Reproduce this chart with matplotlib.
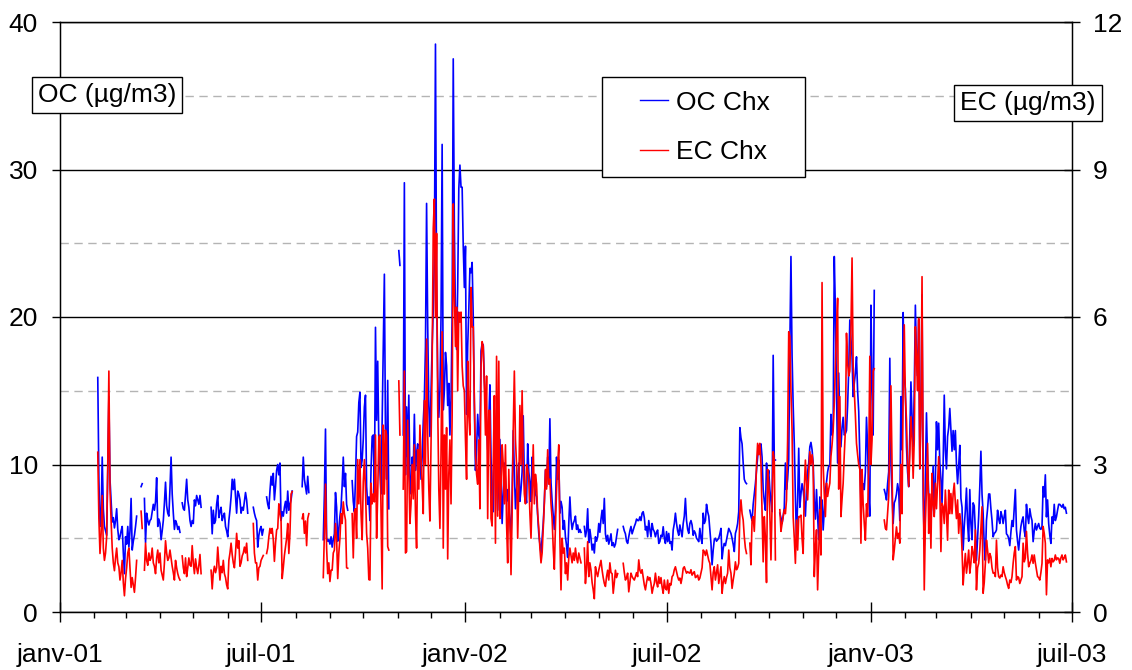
import numpy as np
import pandas as pd
import matplotlib
matplotlib.use("Agg")
import matplotlib.pyplot as plt
import matplotlib.dates as mdates
from matplotlib.ticker import MultipleLocator
from matplotlib.patches import Rectangle

nan = np.nan

# daily OC at Chx (µg/m3), one row per month, nan = missing day
oc_2001 = [  # starts 2001-02-01
    nan, nan, nan, 15.9, 9.0, 5.8, 6.5, 10.5, 7.0, 5.8, 5.5, 5.2, 9.5, 14.6, 9.0, 7.6, 6.1, 6.4, 5.7, 6.2, 7.0, 5.6, 4.9, 5.1, 5.5, 5.8, 4.0, 2.6,
    5.1, 4.6, 5.8, 4.4, 5.5, 7.7, 4.2, 4.8, 5.2, 5.8, 6.5, nan, nan, nan, 8.5, 8.7, nan, 7.7, 4.7, 6.7, 6.2, 5.9, 6.2, 6.3, 6.8, 7.3, 6.9, 7.5, 9.1, 5.8, 6.3,
    6.0, 4.9, 5.5, 6.2, 7.4, 8.8, 7.2, 6.7, 6.5, 8.4, 10.5, 8.0, 6.7, 5.6, 6.2, 6.0, 5.6, 5.8, 5.4, nan, 7.4, 7.0, 6.9, 8.0, 9.0, 7.6, 7.1, 6.2, 5.8, 6.2,
    6.0, 7.6, 7.2, 7.9, 7.6, 7.3, 7.9, 7.1, nan, nan, nan, nan, nan, nan, nan, nan, 7.1, 5.3, 6.9, 6.0, 6.2, 7.3, 7.9, 6.4, 6.8, 7.1, 6.2, 6.5, 6.7, 5.8, 5.5,
    5.1, 6.2, 6.9, 7.8, 9.0, 8.3, 9.0, 7.8, 6.7, 8.2, 8.0, 7.6, 6.7, 7.1, 6.9, 7.5, 8.1, 7.6, 6.7, nan, nan, nan, nan, 7.1, 6.7, 6.4, 6.2, 4.4, 5.2, 5.6,
    5.8, 5.2, 5.6, nan, nan, 7.8, 7.3, 7.0, 8.2, 9.2, 8.6, 9.4, 7.6, 8.5, 9.6, 10.0, 9.3, 10.1, 6.2, 6.8, 6.5, 7.1, 7.5, 6.7, 8.2, 6.9, 7.3, 7.6, 8.2, nan, nan,
    nan, nan, nan, nan, nan, nan, 8.5, 10.5, 9.0, 8.5, 8.0, 9.2, 8.1, nan, nan, nan, nan, nan, nan, nan, nan, nan, nan, nan, nan, 4.9, 8.0, 12.4, 5.0, 4.8, 4.9,
    4.6, 5.1, 4.4, 4.9, 5.3, 8.1, 7.1, 4.8, 5.6, 6.5, 7.1, 8.6, 10.5, 8.5, 9.4, 7.3, 6.9, nan, nan, nan, 8.9, 7.5, 6.8, 9.0, 11.9, 12.2, 14.2, 14.9, 9.8, 10.3,
    11.7, 13.9, 14.7, 8.5, 7.3, 7.8, 6.2, 9.7, 11.9, 12.0, 8.0, 19.3, 13.0, 17.0, 11.5, 9.6, 8.0, 13.0, 18.0, 22.9, 12.0, 9.0, 15.7, 7.0, nan, nan, nan, nan, nan, nan, nan,
    nan, 24.5, 23.5, nan, nan, 12.0, 29.1, 9.3, 13.9, 10.5, 14.7, 9.0, 8.0, 10.5, 9.5, 13.4, 9.6, 10.8, 11.4, 10.0, 11.1, 9.0, 10.5, 12.9, 14.5, 18.0, 27.7, 19.4, 14.0, 11.9,
    15.0, 18.0, 20.5, 24.0, 38.5, 22.0, 16.0, 13.2, 15.0, 20.0, 31.7, 13.7, 15.0, 17.6, 16.7, 14.0, 15.5, 12.0, 14.5, 20.0, 37.5, 26.0, 20.0, 17.8, 22.0, 28.7, 30.3, 28.8, 28.8, 24.8, 22.0,
]
oc_2002 = [
    24.8, 13.4, 18.0, 20.5, 23.3, 23.0, 23.7, 20.0, 14.0, 9.6, 11.0, 13.4, 12.0, 11.5, 17.7, 18.2, 18.1, 15.7, 14.0, 12.9, 11.0, 13.0, 15.4, 10.5, 7.3, 6.8, 13.7, 9.9, 9.2, 6.9, 9.4,
    11.7, 9.0, 6.0, 8.0, 10.1, 9.0, 7.5, 8.3, 7.0, 6.2, 5.1, 8.0, 12.3, 9.5, 7.0, 8.3, 9.0, 10.1, 7.5, 8.3, 9.5, 13.3, 9.0, 8.0, 7.4, 11.4, 9.5, 8.8,
    7.5, 10.5, 9.2, 8.8, 8.0, 7.8, 6.5, 5.3, 4.6, 4.0, 5.0, 6.0, 7.5, 9.6, 8.5, 10.5, 9.0, 13.1, 8.8, 7.5, 6.5, 5.6, 7.0, 10.5, 9.0, 10.3, 6.7, 7.5, 7.1, 5.6, 6.2,
    5.1, 4.5, 3.7, 6.0, 7.8, 6.3, 5.6, 6.0, 6.2, 6.5, 5.6, 5.9, 5.4, 5.6, 5.4, nan, nan, 5.8, 5.1, 5.5, 7.0, 4.7, 5.6, 5.0, 4.2, 4.6, 4.0, 5.1, 4.8, 5.1,
    6.0, 5.4, 6.3, 6.9, 6.0, 7.7, 5.3, 4.8, 5.2, 4.6, 4.9, 5.3, 4.5, 4.7, 4.4, 4.6, 5.1, 5.6, nan, nan, nan, nan, 5.8, 5.5, 5.3, 4.8, 4.65, 5.1, 5.5, 5.8, 5.3,
    5.56, 5.8, 6.0, 6.3, 6.2, 6.2, 6.45, 6.2, 6.7, 6.8, 6.4, 5.56, 5.8, 5.1, 6.2, 5.6, 5.1, 6.0, 5.6, 5.45, 5.1, 5.4, 5.56, 4.65, 4.77, 5.2, 5.1, 5.78, 5.0, 4.65,
    5.45, 4.77, 5.33, 4.65, 4.77, 4.2, 5.56, 6.0, 6.7, 6.0, 5.5, 5.2, 5.9, 5.5, 5.1, 6.0, 6.5, 7.7, 6.2, 5.6, 5.33, 6.0, 6.2, 5.9, 5.2, 5.5, 5.33, 5.0, 4.9, 4.77, 5.67,
    5.0, 4.65, 6.7, 6.0, 6.2, 7.3, 6.8, 6.5, 5.56, 4.65, 3.2, 4.2, 4.9, 5.0, 4.8, 4.9, 5.0, 5.3, 5.67, 3.6, 4.3, 4.65, 4.5, 4.9, 5.33, 5.67, 5.5, 5.33, 5.0, 4.6, 4.1,
    5.33, 5.6, 6.0, 6.8, 12.5, 11.8, 11.4, 10.1, 9.0, 8.8, 8.7, nan, nan, 6.9, 6.5, 6.2, 7.3, 8.0, 8.7, 9.6, 10.5, 11.3, 11.0, 11.4, 10.5, 8.3, 7.5, 6.9, 10.1, 9.0,
    9.6, 8.3, 7.5, 6.8, 17.4, 10.3, 10.3, nan, nan, nan, 6.7, 6.4, 6.0, 6.5, 7.1, 10.1, 8.3, 9.0, 10.3, 18.0, 24.1, 17.4, 14.0, 11.4, 7.8, 4.9, 7.5, 11.1, 7.1, 8.0, 8.7,
    8.3, 7.5, 6.5, 8.3, 9.5, 10.1, 11.2, 11.5, 11.0, 10.1, 7.5, 6.3, 8.3, 6.5, 4.9, 7.8, 7.0, 7.6, 5.56, 7.0, 8.3, 8.8, 9.5, 9.9, 9.9, 13.4, 12.0, 12.5, 24.1, 20.5,
    15.0, 10.1, 16.2, 13.0, 11.2, 12.5, 13.2, 12.0, 12.1, 12.3, 14.0, 16.4, 19.8, 18.5, 17.3, 14.6, 15.5, 16.2, 17.3, 15.0, 13.6, 10.5, 7.4, 8.0, 8.7, 8.3, 9.5, 13.2, 11.2, 8.0, 6.5,
]
oc_2003 = [
    20.8, 15.4, 12.0, 21.8, nan, nan, nan, nan, nan, nan, nan, nan, 8.3, 8.0, 7.6, 8.7, 9.5, 17.2, 10.1, 8.0, 6.0, 7.4, 7.6, 8.0, 8.7, 8.2, 6.2, 14.6, 11.0, 20.3, 16.0,
    15.1, 11.2, 9.5, 8.5, 12.0, 15.6, 13.2, 11.2, 15.0, 20.8, 17.3, 16.0, 19.8, 9.7, 14.0, 21.5, 8.0, 4.5, 9.0, 13.5, 10.1, 8.0, 6.9, 6.0, 8.0, 9.9, 6.7, 9.0,
    12.9, 11.0, 12.8, 10.1, 9.0, 7.4, 10.0, 14.7, 11.0, 9.7, 11.9, 12.5, 13.8, 12.3, 10.9, 12.3, 11.0, 12.3, 10.0, 8.7, 9.9, 11.3, 7.7, 7.1, 4.2, 5.8, 6.9, 8.4, 6.0, 4.8, 8.3,
    6.0, 4.9, 7.4, 7.2, 5.5, 3.5, 5.0, 6.5, 8.5, 10.9, 8.0, 6.7, 4.5, 3.5, 6.2, 7.0, 8.0, 8.0, 7.0, 6.2, 5.1, 5.33, 5.4, 5.56, 6.9, 6.3, 6.0, 6.8, 6.5, 6.0,
    6.5, 6.9, 5.3, 5.2, 5.0, 4.5, 5.4, 6.2, 5.8, 7.0, 8.3, 5.56, 4.8, 4.2, 5.1, 5.8, 6.2, 6.45, 5.5, 5.1, 7.3, 6.5, 6.0, 7.0, 6.5, 6.2, 4.77, 5.5, 6.0, 5.56, 5.8,
    6.0, 5.67, 5.6, 5.8, 8.5, 7.8, 9.3, 6.45, 7.6, 6.0, 5.2, 4.65, 6.45, 6.0, 7.3, 6.2, 6.45, 6.9, 7.3, 7.3, 7.2, 7.1, 7.3, 7.0, 7.1, 6.7,
]

# daily EC at Chx (µg/m3), same days
ec_2001 = [
    nan, nan, nan, 3.25, 1.9, 1.19, 1.6, 2.37, 1.3, 1.05, 1.2, 1.53, 3.0, 4.9, 2.5, 1.86, 1.3, 1.0, 0.84, 1.1, 1.3, 1.0, 0.92, 0.65, 0.8, 1.05, 0.6, 0.33,
    0.68, 0.9, 1.2, 1.3, 0.9, 0.5, 0.7, 0.55, 0.4, 0.7, 1.05, nan, nan, nan, 2.05, 1.7, nan, 0.85, 1.4, 1.05, 0.95, 1.2, 1.05, 1.1, 1.3, 1.0, 0.93, 0.78, 1.1, 1.26, 1.0,
    1.2, 0.85, 0.75, 0.65, 1.0, 1.45, 1.2, 1.05, 1.1, 1.26, 1.1, 0.93, 0.8, 0.65, 1.05, 0.9, 0.78, 0.7, 0.65, nan, 1.14, 0.9, 0.78, 1.1, 0.72, 0.9, 1.1, 0.95, 0.93, 1.35,
    1.0, 0.78, 1.08, 0.9, 0.78, 0.95, 1.17, 0.78, nan, nan, nan, nan, nan, nan, nan, nan, 0.85, 0.47, 0.8, 0.93, 0.8, 0.9, 1.32, 1.0, 0.65, 0.93, 0.8, 1.05, 0.78, 0.7, 0.55,
    0.47, 1.05, 1.2, 1.4, 1.17, 1.0, 0.9, 1.2, 1.6, 1.3, 1.45, 0.93, 1.0, 1.14, 1.2, 1.32, 1.2, 1.4, 1.05, nan, nan, nan, nan, 1.8, 1.2, 1.0, 1.0, 0.65, 0.9, 0.93,
    1.05, 1.1, 1.15, nan, nan, 1.19, 1.3, 1.53, 1.7, 1.6, 1.7, 1.47, 1.03, 1.4, 1.67, 1.7, 2.2, 2.0, 1.85, 0.68, 0.9, 1.15, 1.33, 1.5, 1.8, 1.19, 1.6, 2.4, 2.45, nan, nan,
    nan, nan, nan, nan, nan, nan, 1.9, 2.0, 1.6, 1.85, 1.35, 1.9, 2.0, nan, nan, nan, nan, nan, nan, nan, nan, nan, nan, nan, nan, 0.7, 1.6, 2.6, 1.3, 0.78, 1.0,
    0.62, 0.85, 0.85, 1.2, 1.26, 1.8, 1.5, 0.68, 1.2, 1.5, 2.0, 1.8, 2.24, 2.0, 1.87, 0.9, 0.89, nan, nan, nan, 2.0, 1.1, 2.04, 2.1, 1.5, 3.1, 2.2, 3.1, 2.0, 1.47,
    2.65, 3.1, 2.5, 1.6, 1.3, 0.66, 0.65, 2.62, 2.2, 2.4, 2.24, 3.6, 1.5, 2.4, 3.56, 3.6, 2.1, 0.47, 3.8, 2.4, 3.7, 3.6, 1.33, 1.26, nan, nan, nan, nan, nan, nan, nan,
    nan, 4.7, 3.6, nan, nan, 2.5, 4.9, 1.2, 1.23, 3.9, 2.8, 1.8, 2.2, 3.0, 2.3, 3.4, 2.0, 1.3, 3.3, 2.5, 3.8, 3.1, 2.6, 2.0, 4.3, 3.0, 5.55, 3.6, 2.5, 1.85,
    3.5, 5.0, 7.8, 8.4, 6.0, 7.7, 4.2, 2.5, 1.7, 3.2, 5.7, 1.3, 3.6, 2.5, 3.75, 1.08, 2.8, 3.5, 2.2, 4.0, 8.3, 6.5, 5.4, 6.2, 4.5, 6.1, 5.9, 6.1, 5.0, 4.6, 4.5,
]
ec_2002 = [
    3.5, 2.7, 5.1, 4.0, 3.6, 6.6, 5.8, 5.8, 4.3, 3.2, 2.8, 2.6, 3.5, 2.1, 5.0, 5.5, 5.4, 4.6, 3.6, 4.8, 1.9, 4.1, 4.1, 1.9, 1.75, 3.0, 4.4, 1.4, 5.2, 1.95, 5.1,
    1.9, 2.5, 3.4, 3.0, 2.2, 3.4, 1.8, 1.0, 2.9, 1.8, 0.76, 2.0, 3.7, 4.9, 3.5, 3.0, 1.5, 2.5, 4.2, 3.0, 4.5, 3.0, 2.4, 2.2, 3.0, 2.9, 2.7, 2.0,
    1.5, 2.4, 3.4, 2.2, 2.8, 2.6, 2.0, 1.7, 1.3, 1.0, 1.2, 1.7, 2.2, 2.9, 2.5, 3.3, 2.6, 2.7, 2.2, 1.9, 1.3, 0.87, 1.75, 2.5, 3.0, 3.4, 1.5, 0.45, 1.5, 1.2, 1.3,
    0.78, 1.0, 0.65, 1.1, 1.3, 1.15, 1.0, 1.2, 1.05, 1.3, 1.1, 1.0, 1.2, 1.1, 1.0, nan, nan, 1.3, 0.58, 0.9, 1.43, 0.72, 1.0, 0.85, 0.6, 0.45, 0.27, 0.92, 0.8, 0.72,
    0.85, 0.95, 1.05, 0.85, 0.7, 0.58, 0.52, 0.72, 0.85, 0.65, 1.0, 0.8, 0.78, 0.38, 0.6, 0.85, 0.7, 0.78, nan, nan, nan, nan, 0.99, 0.8, 0.65, 0.7, 0.79, 0.41, 0.6, 0.79, 0.72,
    0.68, 0.65, 0.72, 0.8, 0.72, 1.06, 0.85, 0.79, 0.86, 0.7, 0.55, 0.45, 0.6, 0.72, 0.65, 0.7, 0.58, 0.38, 0.5, 0.58, 0.79, 0.6, 0.51, 0.72, 0.58, 0.7, 0.51, 0.38, 0.65, 0.48,
    0.45, 0.65, 0.38, 0.58, 0.55, 0.72, 0.75, 0.86, 0.92, 0.82, 0.72, 0.65, 0.69, 0.58, 0.7, 0.89, 0.92, 0.85, 0.79, 0.82, 0.8, 0.79, 0.86, 0.75, 0.79, 0.82, 0.7, 0.72, 0.75, 0.65, 0.69,
    0.79, 0.9, 1.26, 1.23, 1.15, 1.26, 1.16, 1.05, 0.99, 0.72, 0.45, 0.8, 0.92, 0.65, 0.8, 0.96, 0.58, 0.75, 0.92, 0.38, 0.6, 0.72, 0.58, 0.7, 0.79, 1.26, 0.9, 0.79, 0.48, 0.65, 0.79,
    1.02, 0.86, 0.9, 0.99, 2.0, 2.28, 2.0, 1.87, 1.53, 1.3, 1.19, nan, nan, 1.4, 0.96, 1.87, 1.94, 1.64, 2.2, 3.0, 3.43, 3.2, 3.43, 3.0, 2.0, 1.02, 1.94, 1.5, 0.6, 2.9,
    2.62, 2.0, 1.06, 2.2, 3.26, 3.09, 1.06, nan, nan, nan, 2.08, 1.64, 1.8, 1.94, 2.08, 2.0, 2.28, 3.5, 5.7, 5.6, 4.5, 3.7, 1.94, 1.5, 0.99, 1.87, 1.26, 1.94, 1.94, 1.97, 1.5,
    1.19, 2.5, 3.09, 2.62, 2.28, 2.8, 3.26, 3.0, 3.2, 3.0, 0.72, 1.3, 1.67, 0.45, 1.2, 2.08, 1.16, 6.7, 3.0, 2.4, 1.94, 2.62, 2.35, 2.5, 2.62, 3.16, 3.4, 3.7, 4.25, 5.0,
    5.74, 6.38, 2.5, 4.38, 1.94, 2.3, 2.62, 3.2, 3.7, 5.67, 5.06, 4.8, 4.9, 5.74, 7.2, 5.0, 4.52, 4.0, 3.43, 3.2, 3.0, 2.9, 1.4, 2.9, 2.2, 1.8, 1.46, 2.2, 1.94, 3.0, 5.2,
]
ec_2003 = [
    3.0, 3.5, 4.9, 4.95, nan, nan, nan, nan, nan, nan, nan, nan, 1.87, 1.7, 1.67, 2.0, 2.35, 3.5, 4.6, 3.0, 1.06, 1.26, 1.5, 1.73, 1.5, 1.6, 1.4, 3.0, 2.0, 4.5, 5.84,
    4.38, 3.9, 3.0, 2.55, 3.2, 3.97, 3.56, 2.72, 3.5, 5.8, 5.19, 4.5, 5.97, 2.92, 4.0, 6.82, 3.0, 0.45, 1.8, 2.5, 3.43, 1.6, 2.4, 1.3, 2.82, 2.2, 1.94, 2.62,
    2.1, 2.62, 3.16, 2.5, 1.23, 2.21, 2.14, 1.8, 2.48, 2.0, 1.46, 2.48, 2.0, 2.41, 2.0, 2.4, 2.62, 2.21, 1.9, 2.28, 1.6, 2.0, 1.8, 1.26, 0.55, 0.9, 1.19, 0.79, 1.0, 1.26, 0.79,
    1.0, 1.33, 1.19, 1.0, 1.67, 0.45, 0.9, 0.99, 1.26, 1.7, 2.14, 0.38, 0.6, 0.99, 1.46, 1.26, 1.0, 1.19, 1.12, 0.9, 0.79, 0.8, 0.72, 1.46, 0.9, 0.72, 0.69, 0.75, 0.72, 0.92,
    0.8, 0.72, 0.65, 0.55, 0.48, 0.65, 0.6, 0.72, 0.99, 1.2, 1.33, 0.65, 0.72, 0.7, 0.58, 0.65, 0.72, 1.4, 1.02, 1.1, 1.64, 1.2, 0.92, 0.99, 1.05, 1.16, 0.99, 1.16, 1.0, 0.86, 0.72,
    0.7, 0.65, 0.8, 0.99, 1.74, 1.6, 1.4, 0.35, 1.06, 1.0, 1.09, 0.92, 1.09, 1.02, 1.05, 1.16, 1.06, 1.1, 1.09, 0.99, 1.1, 1.16, 1.06, 1.1, 1.16, 1.02,
]

tick_dates = ["2001-01-01", "2001-07-01", "2002-01-01", "2002-07-01", "2003-01-01", "2003-07-01"]
tick_labels = ["janv-01", "juil-01", "janv-02", "juil-02", "janv-03", "juil-03"]

assert len(oc_2001) == len(ec_2001) == 334, (len(oc_2001), len(ec_2001))
assert len(oc_2002) == len(ec_2002) == 365, (len(oc_2002), len(ec_2002))
assert len(oc_2003) == len(ec_2003) == 177, (len(oc_2003), len(ec_2003))

days = np.concatenate([
    pd.date_range("2001-02-01", periods=len(oc_2001)).values,
    pd.date_range("2002-01-01", periods=len(oc_2002)).values,
    pd.date_range("2003-01-01", periods=len(oc_2003)).values,
])
oc = np.array(oc_2001 + oc_2002 + oc_2003, dtype=float)
ec = np.array(ec_2001 + ec_2002 + ec_2003, dtype=float)

plt.rcParams["font.family"] = ["Liberation Sans", "DejaVu Sans"]
fs = 19
W, H = 1132, 670

fig = plt.figure(figsize=(W / 100, H / 100), dpi=100)
ax = fig.add_axes([60 / W, 58 / H, 1012 / W, 590 / H])

l1, = ax.plot(days, oc, color="#0000ff", lw=1.2)
ax.set_ylim(0, 40)
ax.set_yticks(range(0, 41, 10))
ax.yaxis.set_minor_locator(MultipleLocator(5))
ax.grid(axis="y", which="major", color="black", lw=1.0)
ax.grid(axis="y", which="minor", color="#b4b4b4", lw=1.0, ls=(0, (6, 4)))
ax.tick_params(axis="y", which="minor", length=0)
ax.tick_params(axis="y", which="major", direction="out", length=6, width=1, pad=10, labelsize=fs)

ax.set_xlim(pd.Timestamp("2001-01-01"), pd.Timestamp("2003-07-01"))
ax.set_xticks(pd.to_datetime(tick_dates))
ax.set_xticklabels(tick_labels)
ax.xaxis.set_minor_locator(mdates.MonthLocator())
ax.tick_params(axis="x", which="major", direction="inout", length=14, width=1, pad=15.5, labelsize=fs)
ax.tick_params(axis="x", which="minor", direction="out", length=4, width=1)
for s in ax.spines.values():
    s.set_color("black")
    s.set_linewidth(1)

ax2 = ax.twinx()
l2, = ax2.plot(days, ec, color="#ff0000", lw=1.2)
ax2.set_ylim(0, 12)
ax2.set_yticks(range(0, 13, 3))
ax2.tick_params(axis="y", direction="inout", length=12, width=1, pad=9, labelsize=fs)

# axis name boxes
box = dict(boxstyle="square,pad=0.22", fc="white", ec="black", lw=1)
fig.text(107 / W, 1 - 95 / H, "OC (µg/m3)", ha="center", va="center", fontsize=fs, bbox=box, zorder=10)
fig.text(1028 / W, 1 - 103 / H, "EC (µg/m3)", ha="center", va="center", fontsize=fs, bbox=box, zorder=10)

# legend frame and entries
fig.add_artist(Rectangle((602 / W, 1 - 177 / H), 203 / W, 100 / H, transform=fig.transFigure,
                         fc="white", ec="black", lw=1, zorder=10))
leg = fig.legend([l1, l2], ["OC Chx", "EC Chx"], loc="center left",
                 bbox_to_anchor=(640 / W, 1 - 127.5 / H), frameon=False, fontsize=fs,
                 handlelength=1.05, handletextpad=0.3, labelspacing=0.98,
                 borderpad=0, borderaxespad=0)
for h in leg.legend_handles:
    h.set_linewidth(1.0)
leg.set_zorder(11)

fig.savefig("out.png", dpi=100)
